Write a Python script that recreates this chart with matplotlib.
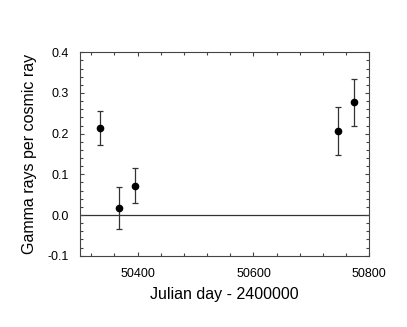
import numpy as np
import matplotlib
matplotlib.use('Agg')
import matplotlib.pyplot as plt
from matplotlib.ticker import MultipleLocator

# data
jd = [50335, 50368, 50395, 50746, 50774]
ratio = [0.213, 0.018, 0.072, 0.206, 0.277]
err_hi = [0.256, 0.070, 0.116, 0.265, 0.334]
err_lo = [0.172, -0.034, 0.030, 0.148, 0.219]

plt.rcParams['font.family'] = ['Liberation Sans', 'DejaVu Sans']

yerr = [np.array(ratio) - np.array(err_lo), np.array(err_hi) - np.array(ratio)]

fig = plt.figure(figsize=(4.07, 3.27), dpi=100)
ax = fig.add_axes([79.7/407, 1-255.7/327, (369.3-79.7)/407, (255.7-52.3)/327])
ax.axhline(0, color='#333333', linewidth=0.9, zorder=1)
ax.errorbar(jd, ratio, yerr=yerr, fmt='o', color='black', ecolor='#333333',
            markersize=4.5, elinewidth=0.9, capsize=2.5, capthick=0.9, zorder=3)

ax.set_xlim(50300, 50800)
ax.set_ylim(-0.1, 0.4)
ax.set_xticks([50400, 50600, 50800])
ax.xaxis.set_minor_locator(MultipleLocator(40))
ax.yaxis.set_major_locator(MultipleLocator(0.1))
ax.yaxis.set_minor_locator(MultipleLocator(0.02))
ax.set_yticklabels(['%.1f' % v for v in ax.get_yticks()])
ax.tick_params(which='both', direction='in', top=True, right=True,
               labelsize=9, color='#444444', width=0.8)
ax.tick_params(which='major', length=3)
ax.tick_params(which='minor', length=2)
ax.tick_params(axis='x', which='major', pad=8.5)
ax.tick_params(axis='y', which='major', pad=8)
for s in ax.spines.values():
    s.set_color('#444444')
    s.set_linewidth(0.8)

ax.set_xlabel('Julian day - 2400000', fontsize=11.5, va='center')
ax.set_ylabel('Gamma rays per cosmic ray', fontsize=11.5, va='center', ha='center')
ax.xaxis.set_label_coords(0.5, -0.193)
ax.yaxis.set_label_coords(-0.175, 0.5)

plt.savefig('out.png', dpi=100)
